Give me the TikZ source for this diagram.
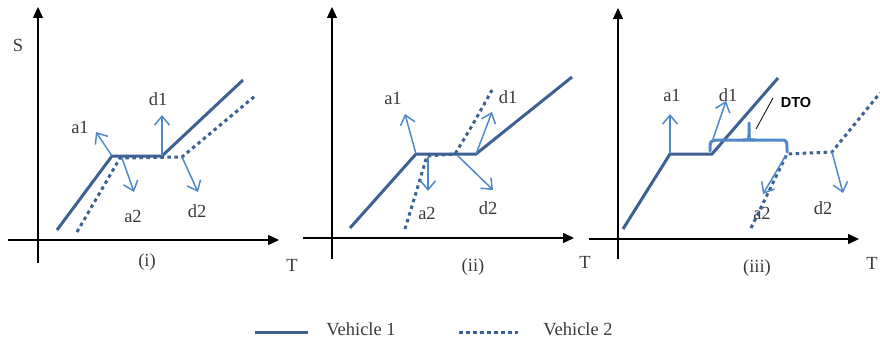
\documentclass[tikz,border=0pt]{standalone}
\usepackage{fontspec}
\setmainfont{Liberation Serif}
\newfontfamily\dtofont{Liberation Sans}
\usetikzlibrary{arrows.meta}
\definecolor{vdark}{HTML}{3E6193}
\definecolor{vlight}{HTML}{4F88C6}
\definecolor{txt}{HTML}{3A3A3A}
\tikzset{
  axisline/.style={line width=1.4pt,black,-{Triangle[length=11pt,width=10pt]}},
  vehone/.style={line width=3pt,vdark},
  vehtwo/.style={line width=3pt,vdark,dash pattern=on 3.5pt off 3.5pt},
  motion/.style={line width=1.5pt,vlight,-{Straight Barb[length=9pt,width=15pt,line width=1.5pt]}},
  lbl/.style={text=txt,font=\fontsize{18.5}{20}\selectfont,inner sep=0pt},
  axlbl/.style={text=txt,font=\fontsize{18.5}{20}\selectfont,inner sep=0pt},
  bracestyle/.style={line width=3pt,vlight,line cap=round},
}
\begin{document}
\begin{tikzpicture}[x=1pt,y=-1pt]
\useasboundingbox (0,0) rectangle (880,345);

% ---------------- Panel (i) ----------------
\coordinate (iyb) at (38,263); \coordinate (iyt) at (38,7);
\coordinate (ixl) at (8,240);  \coordinate (ixr) at (279,240);
\draw[axisline] (iyb) -- (iyt);
\draw[axisline] (ixl) -- (ixr);
\node[axlbl] (iS) at (18,45) {S};
\node[axlbl] (iT) at (292,265) {T};
\node[lbl] (icap) at (147,262) {(i)};

\coordinate (iA1) at (57,230); \coordinate (iA2) at (112,156);
\coordinate (iA3) at (162,156); \coordinate (iA4) at (243,80);
\draw[vehone] (iA1) -- (iA2) -- (iA3) -- (iA4);
\coordinate (iB1) at (77,232); \coordinate (iB2) at (120,158);
\coordinate (iB3) at (182,157); \coordinate (iB4) at (255,96);
\draw[vehtwo] (iB1) -- (iB2) -- (iB3) -- (iB4);

\coordinate (ia1e) at (96,132); \coordinate (ia2s) at (122,158); \coordinate (ia2e) at (134,192);
\coordinate (id1e) at (162,115); \coordinate (id2e) at (198,192);
\draw[motion] (iA2) -- (ia1e);
\draw[motion] (ia2s) -- (ia2e);
\draw[motion] (iA3) -- (id1e);
\draw[motion] (iB3) -- (id2e);
\node[lbl] (ia1) at (80,127) {a1};
\node[lbl] (ia2) at (133,216) {a2};
\node[lbl] (id1) at (158,99) {d1};
\node[lbl] (id2) at (197,211) {d2};

% ---------------- Panel (ii) ----------------
\coordinate (jyb) at (332,259); \coordinate (jyt) at (332,7);
\coordinate (jxl) at (303,238); \coordinate (jxr) at (574,238);
\draw[axisline] (jyb) -- (jyt);
\draw[axisline] (jxl) -- (jxr);
\node[axlbl] (jT) at (585,262) {T};
\node[lbl] (jcap) at (473,267) {(ii)};

\coordinate (jA1) at (350,228); \coordinate (jA2) at (416,154);
\coordinate (jA3) at (476,154); \coordinate (jA4) at (572,77);
\draw[vehone] (jA1) -- (jA2) -- (jA3) -- (jA4);
\coordinate (jB1) at (405,229); \coordinate (jB2) at (427,156);
\coordinate (jB3) at (455,154); \coordinate (jB4) at (492,90);
\draw[vehtwo] (jB1) .. controls (415,196) .. (jB2) -- (jB3) .. controls (472,126) .. (jB4);

\coordinate (ja1e) at (405,114); \coordinate (ja2s) at (428,157); \coordinate (ja2e) at (428,191);
\coordinate (jd1e) at (492,112); \coordinate (jd2s) at (457,155); \coordinate (jd2e) at (493,190);
\draw[motion] (jA2) -- (ja1e);
\draw[motion] (ja2s) -- (ja2e);
\draw[motion] (jA3) -- (jd1e);
\draw[motion] (jd2s) -- (jd2e);
\node[lbl] (ja1) at (393,98) {a1};
\node[lbl] (ja2) at (427,213) {a2};
\node[lbl] (jd1) at (508,97) {d1};
\node[lbl] (jd2) at (488,208) {d2};

% ---------------- Panel (iii) ----------------
\coordinate (kyb) at (618,259); \coordinate (kyt) at (618,8);
\coordinate (kxl) at (589,239); \coordinate (kxr) at (859,239);
\draw[axisline] (kyb) -- (kyt);
\draw[axisline] (kxl) -- (kxr);
\node[axlbl] (kT) at (872,263) {T};
\node[lbl] (kcap) at (757,268) {(iii)};

\node[lbl] (ka1) at (672,95) {a1};
\node[lbl] (kd1) at (728,95) {d1};
\node[lbl] (ka2) at (762,213) {a2};
\node[lbl] (kd2) at (823,208) {d2};

\coordinate (kA1) at (623,229); \coordinate (kA2) at (670,154);
\coordinate (kA3) at (712,154); \coordinate (kA4) at (778,78);
\draw[vehone] (kA1) -- (kA2) -- (kA3) -- (kA4);
\coordinate (kB1) at (751,228); \coordinate (kB2) at (787,154);
\coordinate (kB3) at (832,152); \coordinate (kB4) at (880,93);
\draw[vehtwo] (kB1) -- (kB2) -- (kB3) -- (kB4);

\coordinate (ka1e) at (670,114);
\coordinate (kd1s) at (713,139); \coordinate (kd1e) at (726,101);
\coordinate (ka2s) at (786,155); \coordinate (ka2e) at (763,194);
\coordinate (kd2e) at (843,193);
\draw[motion] (kA2) -- (ka1e);
\draw[motion] (kd1s) -- (kd1e);
\draw[motion] (ka2s) -- (ka2e);
\draw[motion] (kB3) -- (kd2e);

% brace (DTO)
\coordinate (kbl) at (710,151); \coordinate (kbr) at (787,152);
\coordinate (kbt) at (749,123);
\draw[bracestyle] (kbl) .. controls (710,141) .. (717,140) -- (780,140) .. controls (787,140) .. (kbr);
\draw[bracestyle] (743,140) .. controls (749,140) .. (749,135) -- (kbt);
\draw[bracestyle] (755,140) .. controls (749,140) .. (749,135);
\node[inner sep=0pt,font=\dtofont\bfseries\fontsize{14.5}{16}\selectfont] (kdto) at (796,103) {DTO};
\coordinate (kls) at (756,129); \coordinate (kle) at (773,98);
\draw[line width=0.8pt,black] (kls) -- (kle);

% ---------------- Legend ----------------
\coordinate (l1a) at (255,332); \coordinate (l1b) at (308,332);
\draw[vehone] (l1a) -- (l1b);
\node[lbl] (lv1) at (361,329) {Vehicle 1};
\coordinate (l2a) at (459,332); \coordinate (l2b) at (518,332);
\draw[vehtwo] (l2a) -- (l2b);
\node[lbl] (lv2) at (578,329) {Vehicle 2};
\end{tikzpicture}
\end{document}
